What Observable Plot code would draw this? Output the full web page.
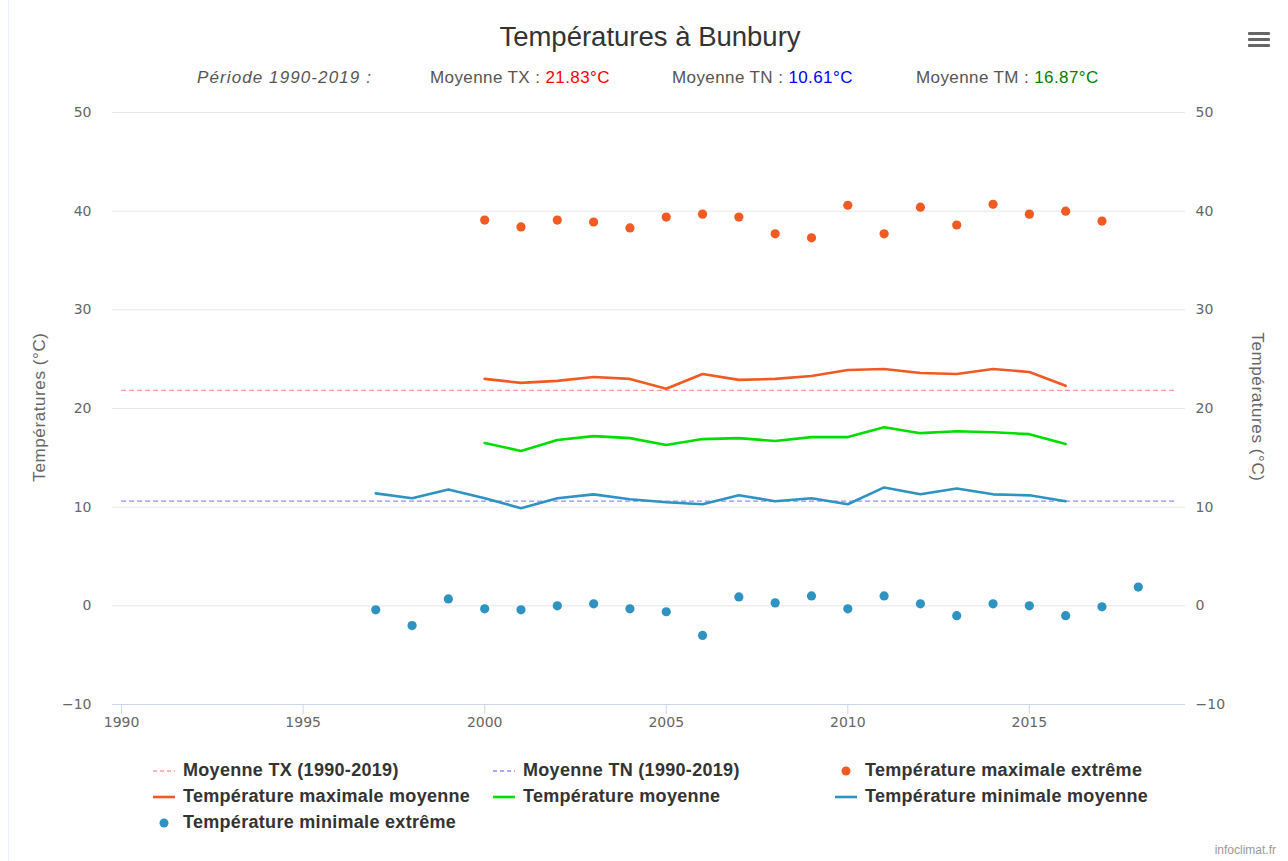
<!DOCTYPE html>
<html><head><meta charset="utf-8">
<script src="https://cdn.jsdelivr.net/npm/d3@7"></script>
<script src="https://cdn.jsdelivr.net/npm/@observablehq/plot@0.6"></script>
<style>
body{margin:0;background:#fff;}
#wrap{position:relative;width:1288px;height:861px;overflow:hidden;background:#fff;font-family:"Liberation Sans",Arial,sans-serif;}
#border{position:absolute;left:8px;top:0;width:1px;height:861px;background:#eaf0f8;}
.abs{position:absolute;white-space:nowrap;}
#title{left:0;width:1300px;top:21px;text-align:center;font-size:27.5px;color:#333;}
.sub{top:68px;font-size:17px;color:#555;letter-spacing:0.4px;}
#plot{position:absolute;left:0;top:92px;}
.ytitle{font-size:17px;color:#666;letter-spacing:0.6px;}
.leg{font-size:18px;font-weight:bold;color:#333;display:flex;align-items:center;letter-spacing:0.3px;}
.leg svg{margin-right:8px;}
#credits{right:12px;top:843px;font-size:12px;color:#999;}
#menu{left:1248px;top:32px;width:22px;}
#menu div{height:3px;background:#666;margin-bottom:3px;border-radius:1px;}
</style></head><body>
<div id="wrap">
  <div id="border"></div>
  <div id="title" class="abs">Températures à Bunbury</div>
  <div id="subs"></div>
  <div id="menu" class="abs"><div></div><div></div><div></div></div>
  <div id="plot"></div>
  <div id="ytl" class="abs ytitle" style="left:40px;top:407px;transform:translate(-50%,-50%) rotate(-90deg);">Températures (°C)</div>
  <div id="ytr" class="abs ytitle" style="left:1257px;top:407px;transform:translate(-50%,-50%) rotate(90deg);">Températures (°C)</div>
  <div id="legend"></div>
  <div id="credits" class="abs">infoclimat.fr</div>
</div>
<script>
// ---- data ----
const txExtremeYears = [2000,2001,2002,2003,2004,2005,2006,2007,2008,2009,2010,2011,2012,2013,2014,2015,2016,2017];
const txExtreme = [39.1,38.4,39.1,38.9,38.3,39.4,39.7,39.4,37.7,37.3,40.6,37.7,40.4,38.6,40.7,39.7,40.0,39.0];
const txMeanYears = [2000,2001,2002,2003,2004,2005,2006,2007,2008,2009,2010,2011,2012,2013,2014,2015,2016];
const txMean = [23.0,22.6,22.8,23.2,23.0,22.0,23.5,22.9,23.0,23.3,23.9,24.0,23.6,23.5,24.0,23.7,22.3];
const tmMeanYears = [2000,2001,2002,2003,2004,2005,2006,2007,2008,2009,2010,2011,2012,2013,2014,2015,2016];
const tmMean = [16.5,15.7,16.8,17.2,17.0,16.3,16.9,17.0,16.7,17.1,17.1,18.1,17.5,17.7,17.6,17.4,16.4];
const tnMeanYears = [1997,1998,1999,2000,2001,2002,2003,2004,2005,2006,2007,2008,2009,2010,2011,2012,2013,2014,2015,2016];
const tnMean = [11.4,10.9,11.8,10.9,9.9,10.9,11.3,10.8,10.5,10.3,11.2,10.6,10.9,10.3,12.0,11.3,11.9,11.3,11.2,10.6];
const tnExtremeYears = [1997,1998,1999,2000,2001,2002,2003,2004,2005,2006,2007,2008,2009,2010,2011,2012,2013,2014,2015,2016,2017,2018];
const tnExtreme = [-0.4,-2.0,0.7,-0.3,-0.4,0.0,0.2,-0.3,-0.6,-3.0,0.9,0.3,1.0,-0.3,1.0,0.2,-1.0,0.2,0.0,-1.0,-0.1,1.9];
const periodStart = 1990, periodEnd = 2019;
const avgTX = 21.83, avgTN = 10.61, avgTM = 16.87;
const xTicks = [1990,1995,2000,2005,2010,2015];
const yTicks = [-10,0,10,20,30,40,50];
const seriesNames = ["Moyenne TX (1990-2019)","Moyenne TN (1990-2019)","Température maximale extrême","Température maximale moyenne","Température moyenne","Température minimale moyenne","Température minimale extrême"];

const C = {tx:"#f15a22", tm:"#00dd00", tn:"#2e93c0", txAvg:"#ff9c9c", tnAvg:"#8f8fff"};
const zip = (ys, vs) => ys.map((y,i)=>({year:y, value:vs[i]}));

// ---- subtitle ----
const subs = document.getElementById("subs");
const subItems = [
  {left:197, ls:"1.1px", html:'<i>Période 1990-2019 :</i>'},
  {left:430, ls:"0.4px", html:`Moyenne TX : <span style="color:#ff0000">${avgTX.toFixed(2)}°C</span>`},
  {left:672, ls:"0.4px", html:`Moyenne TN : <span style="color:#0000ff">${avgTN.toFixed(2)}°C</span>`},
  {left:916, ls:"0.4px", html:`Moyenne TM : <span style="color:#008000">${avgTM.toFixed(2)}°C</span>`}
];
subItems.forEach(s=>{const d=document.createElement("div");d.className="abs sub";d.style.left=s.left+"px";d.style.letterSpacing=s.ls;d.innerHTML=s.html;subs.appendChild(d);});

// ---- chart ----
const chart = Plot.plot({
  width:1288, height:652,
  marginLeft:112, marginRight:103, marginTop:20, marginBottom:40,
  x:{domain:[1989.75,2019.3]},
  y:{domain:[-10,50]},
  style:{fontFamily:"'DejaVu Sans',sans-serif", fontSize:"14px", color:"#666", background:"transparent", overflow:"visible"},
  marks:[
    Plot.gridY(yTicks,{stroke:"#e6e6e6", strokeOpacity:1}),
    Plot.ruleY([-10],{stroke:"#ccd6eb"}),
    Plot.axisY(yTicks,{anchor:"left", tickSize:0, tickPadding:21, label:null, fill:"#666"}),
    Plot.axisY(yTicks,{anchor:"right", tickSize:0, tickPadding:10, label:null, fill:"#666"}),
    Plot.axisX(xTicks,{anchor:"bottom", tickSize:10, tickPadding:3, stroke:"#ccd6eb", fill:"#666", label:null, tickFormat:d=>String(d)}),
    Plot.ruleY([avgTX],{x1:periodStart, x2:periodEnd, stroke:C.txAvg, strokeWidth:1.2, strokeDasharray:"5,3"}),
    Plot.ruleY([avgTN],{x1:periodStart, x2:periodEnd, stroke:C.tnAvg, strokeWidth:1.2, strokeDasharray:"5,3"}),
    Plot.line(zip(txMeanYears,txMean),{x:"year", y:"value", stroke:C.tx, strokeWidth:2.6}),
    Plot.line(zip(tmMeanYears,tmMean),{x:"year", y:"value", stroke:C.tm, strokeWidth:2.6}),
    Plot.line(zip(tnMeanYears,tnMean),{x:"year", y:"value", stroke:C.tn, strokeWidth:2.6}),
    Plot.dot(zip(txExtremeYears,txExtreme),{x:"year", y:"value", r:4.6, fill:C.tx, stroke:null}),
    Plot.dot(zip(tnExtremeYears,tnExtreme),{x:"year", y:"value", r:4.6, fill:C.tn, stroke:null})
  ]
});
document.getElementById("plot").appendChild(chart);

// ---- legend ----
const legend = document.getElementById("legend");
const symbols = [
  `<line x1="0" y1="8" x2="22" y2="8" stroke="${C.txAvg}" stroke-width="1.5" stroke-dasharray="4,3"/>`,
  `<line x1="0" y1="8" x2="22" y2="8" stroke="${C.tnAvg}" stroke-width="1.5" stroke-dasharray="4,3"/>`,
  `<circle cx="11" cy="8" r="4.5" fill="${C.tx}"/>`,
  `<line x1="0" y1="8" x2="22" y2="8" stroke="${C.tx}" stroke-width="2.6"/>`,
  `<line x1="0" y1="8" x2="22" y2="8" stroke="${C.tm}" stroke-width="2.6"/>`,
  `<line x1="0" y1="8" x2="22" y2="8" stroke="${C.tn}" stroke-width="2.6"/>`,
  `<circle cx="11" cy="8" r="4.5" fill="${C.tn}"/>`
];
const colX = [153,493,835], rowY = [771,797,823];
seriesNames.forEach((name,i)=>{
  const d=document.createElement("div");
  d.className="abs leg";
  d.style.left=colX[i%3]+"px";
  d.style.top=(rowY[Math.floor(i/3)]-11)+"px";
  d.innerHTML=`<svg width="22" height="16">${symbols[i]}</svg><span>${name}</span>`;
  legend.appendChild(d);
});
</script>
</body></html>
